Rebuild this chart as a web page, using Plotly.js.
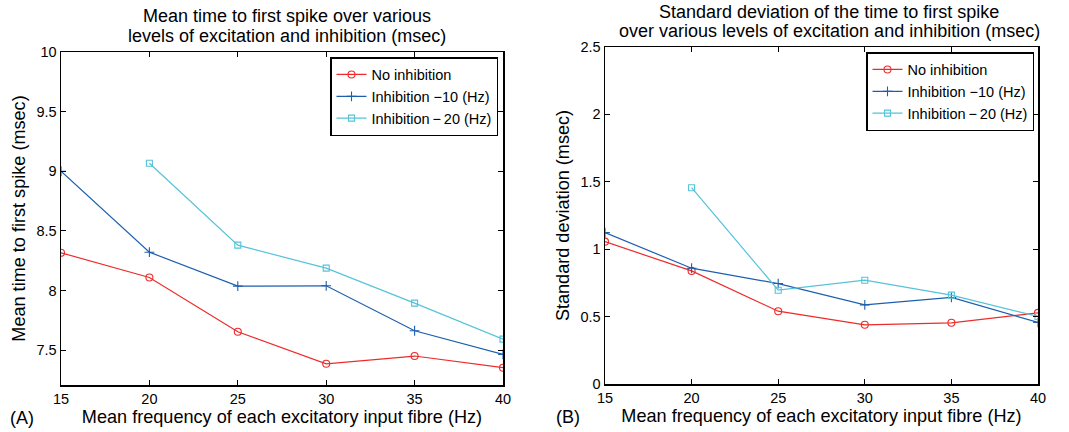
<!DOCTYPE html>
<html>
<head>
<meta charset="utf-8">
<script src="https://cdn.plot.ly/plotly-3.0.1.min.js"></script>
<style>html,body{margin:0;padding:0;background:#fff;}#chart{width:1069px;height:432px;}</style>
</head>
<body>
<div id="chart"></div>
<script>
// Data
var freq = [15, 20, 25, 30, 35, 40];
var freqInh20 = [20, 25, 30, 35, 40];
var seriesNames = ["No inhibition", "Inhibition \u221210 (Hz)", "Inhibition\u2009\u2212\u200920 (Hz)"];

var meanNoInh = [8.316, 8.109, 7.654, 7.385, 7.450, 7.352];
var meanInh10 = [9.000, 8.321, 8.036, 8.039, 7.662, 7.464];
var meanInh20 = [9.067, 8.380, 8.187, 7.894, 7.592];

var sdNoInh = [1.056, 0.839, 0.540, 0.439, 0.454, 0.528];
var sdInh10 = [1.123, 0.859, 0.745, 0.587, 0.642, 0.457];
var sdInh20 = [1.456, 0.696, 0.770, 0.659, 0.501];

var xTicks = [15, 20, 25, 30, 35, 40];
var yTicksA = [7.5, 8, 8.5, 9, 9.5, 10];
var yTicksB = [0, 0.5, 1, 1.5, 2, 2.5];

var titleA = ["Mean time to first spike over various", "levels of excitation and inhibition (msec)"];
var titleB = ["Standard deviation of the time to first spike", "over various levels of excitation and inhibition (msec)"];

var RED = "#ee2b2b", BLUE = "#1d5fae", CYAN = "#55c3d8";
var FONT = "Liberation Sans, Arial, Helvetica, sans-serif";

function tr(x, y, name, color, symbol, size, xa, ya, leg) {
  return {
    x: x, y: y, name: name, type: "scatter", mode: "lines+markers",
    xaxis: xa, yaxis: ya, legend: leg,
    line: {color: color, width: 1.2},
    marker: {symbol: symbol, size: size, color: color, line: {color: color, width: 1.1}}
  };
}

var data = [
  tr(freq, meanNoInh, seriesNames[0], RED, "circle-open", 7, "x", "y", "legend"),
  tr(freq, meanInh10, seriesNames[1], BLUE, "cross-thin-open", 7, "x", "y", "legend"),
  tr(freqInh20, meanInh20, seriesNames[2], CYAN, "square-open", 6, "x", "y", "legend"),
  tr(freq, sdNoInh, seriesNames[0], RED, "circle-open", 7, "x2", "y2", "legend2"),
  tr(freq, sdInh10, seriesNames[1], BLUE, "cross-thin-open", 7, "x2", "y2", "legend2"),
  tr(freqInh20, sdInh20, seriesNames[2], CYAN, "square-open", 6, "x2", "y2", "legend2")
];

var AX_TITLE_FONT = {family: FONT, size: 18.1, color: "#000"};

function axis(extra) {
  var a = {
    showline: true, linecolor: "#000", linewidth: 1.5, mirror: "ticks",
    ticks: "inside", ticklen: 5, tickcolor: "#000", tickwidth: 1,
    showgrid: false, zeroline: false,
    tickfont: {family: FONT, size: 14.5, color: "#000"}
  };
  for (var k in extra) a[k] = extra[k];
  return a;
}

var legendBase = {
  font: {family: FONT, size: 14.5, color: "#000"},
  bordercolor: "#000", borderwidth: 1.5, bgcolor: "#fff",
  xanchor: "right", yanchor: "top", tracegroupgap: 0, itemwidth: 30
};
var leg1 = Object.assign({}, legendBase, {x: 498/1069, y: 1 - 57/432});
var leg2 = Object.assign({}, legendBase, {x: 1034/1069, y: 1 - 52/432});

function ann(text, xpx, ypx, size, anchor) {
  return {text: text, xref: "paper", yref: "paper", x: xpx/1069, y: 1 - ypx/432,
    xanchor: anchor || "center", yanchor: "middle", showarrow: false,
    font: {family: FONT, size: size, color: "#000"}};
}

var layout = {
  width: 1069, height: 432,
  margin: {l: 0, r: 0, t: 0, b: 0},
  paper_bgcolor: "#fff", plot_bgcolor: "#fff",
  font: {family: FONT, color: "#000"},
  showlegend: true,
  legend: leg1, legend2: leg2,
  xaxis: axis({domain: [61/1069, 503/1069], range: [15, 40], tickvals: xTicks, anchor: "y",
    title: {text: "Mean frequency of each excitatory input fibre (Hz)", standoff: 3, font: AX_TITLE_FONT}}),
  yaxis: axis({domain: [1 - 385/432, 1 - 52/432], range: [7.207, 10], tickvals: yTicksA, ticktext: ["7.5","8","8.5","9","9.5","10"], anchor: "x",
    title: {text: "Mean time to first spike (msec)", standoff: 6, font: AX_TITLE_FONT}}),
  xaxis2: axis({domain: [605/1069, 1038/1069], range: [15, 40], tickvals: xTicks, anchor: "y2",
    title: {text: "Mean frequency of each excitatory input fibre (Hz)", standoff: 3, font: AX_TITLE_FONT}}),
  yaxis2: axis({domain: [1 - 384/432, 1 - 47/432], range: [0, 2.5], tickvals: yTicksB, ticktext: ["0","0.5","1","1.5","2","2.5"], anchor: "x2",
    title: {text: "Standard deviation (msec)", standoff: 6, font: AX_TITLE_FONT}}),
  annotations: [
    ann(titleA[0], 287, 16, 18),
    ann(titleA[1], 287, 36, 18),
    ann(titleB[0], 829, 12, 18),
    ann(titleB[1], 829, 31, 18),
    ann("(A)", 8, 418, 18, "left"),
    ann("(B)", 554, 417, 18, "left")
  ]
};

Plotly.newPlot("chart", data, layout, {displayModeBar: false, staticPlot: true});
</script>
</body>
</html>
